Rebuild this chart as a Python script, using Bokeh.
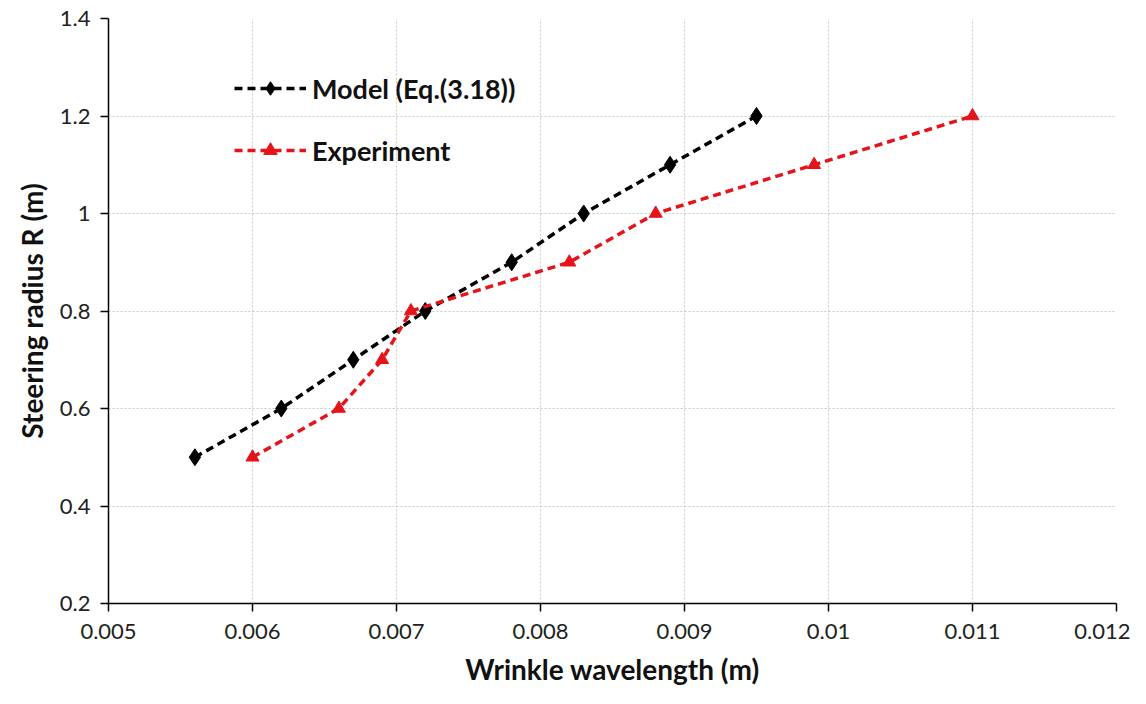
from bokeh.plotting import figure
from bokeh.models import FixedTicker, CustomJSTickFormatter, Legend, LegendItem, Range1d
from bokeh.embed import file_html
from bokeh.resources import INLINE

model_x = [0.0056, 0.0062, 0.0067, 0.0072, 0.0078, 0.0083, 0.0089, 0.0095]
model_y = [0.5, 0.6, 0.7, 0.8, 0.9, 1.0, 1.1, 1.2]
exp_x = [0.0060, 0.0066, 0.0069, 0.0071, 0.0082, 0.0088, 0.0099, 0.0110]
exp_y = [0.5, 0.6, 0.7, 0.8, 0.9, 1.0, 1.1, 1.2]
x_ticks = [0.005, 0.006, 0.007, 0.008, 0.009, 0.010, 0.011, 0.012]
y_ticks = [0.2, 0.4, 0.6, 0.8, 1.0, 1.2, 1.4]

FONT = "Lato"

p = figure(width=1130, height=688, output_backend="svg", toolbar_location=None,
           x_range=Range1d(0.005, 0.012), y_range=Range1d(0.2, 1.4),
           min_border_left=108, min_border_right=14, min_border_top=18, min_border_bottom=80)
p.outline_line_color = None
p.background_fill_color = "white"

fmt = CustomJSTickFormatter(code="return String(parseFloat(tick.toFixed(4)));")
p.xaxis.ticker = FixedTicker(ticks=x_ticks)
p.yaxis.ticker = FixedTicker(ticks=y_ticks)
p.xaxis.formatter = fmt
p.yaxis.formatter = fmt

for ax in (p.xaxis, p.yaxis):
    ax.axis_line_color = "black"
    ax.axis_line_width = 1.5
    ax.major_tick_line_color = "black"
    ax.major_tick_line_width = 1.5
    ax.major_tick_in = 0
    ax.major_tick_out = 8
    ax.minor_tick_line_color = None
    ax.major_label_text_font = FONT
    ax.major_label_text_font_size = "22px"
    ax.major_label_text_color = "#222222"
    ax.axis_label_text_font = FONT
    ax.axis_label_text_font_size = "28px"
    ax.axis_label_text_font_style = "bold"
    ax.axis_label_text_color = "#111111"

p.xaxis.axis_label = "Wrinkle wavelength (m)"
p.yaxis.axis_label = "Steering radius R (m)"
p.xaxis.major_label_standoff = 12
p.xaxis.axis_label_standoff = 10
p.yaxis.major_label_standoff = 10
p.yaxis.axis_label_standoff = 8

p.grid.grid_line_color = "#c8c8c8"
p.grid.grid_line_dash = "2 2"
p.grid.grid_line_width = 1

l1 = p.line(model_x, model_y, line_color="black", line_width=3.5, line_dash="8 5")
m1 = p.scatter(model_x, model_y, marker="diamond", size=17, fill_color="black", line_color="black")
l2 = p.line(exp_x, exp_y, line_color="#e5141b", line_width=3.5, line_dash="8 5")
m2 = p.scatter(exp_x, exp_y, marker="triangle", size=13, fill_color="#e5141b", line_color="#e5141b")

legend = Legend(items=[LegendItem(label="Model (Eq.(3.18))", renderers=[l1, m1]),
                       LegendItem(label="Experiment", renderers=[l2, m2])],
                location=(126, 436))
legend.border_line_color = None
legend.background_fill_alpha = 0
legend.glyph_width = 72
legend.glyph_height = 34
legend.spacing = 28
legend.label_text_font = FONT
legend.label_text_font_size = "27px"
legend.label_text_font_style = "bold"
legend.label_text_color = "#111111"
legend.label_standoff = 6
p.add_layout(legend, "center")

open("out.html", "w").write(file_html(p, INLINE))
